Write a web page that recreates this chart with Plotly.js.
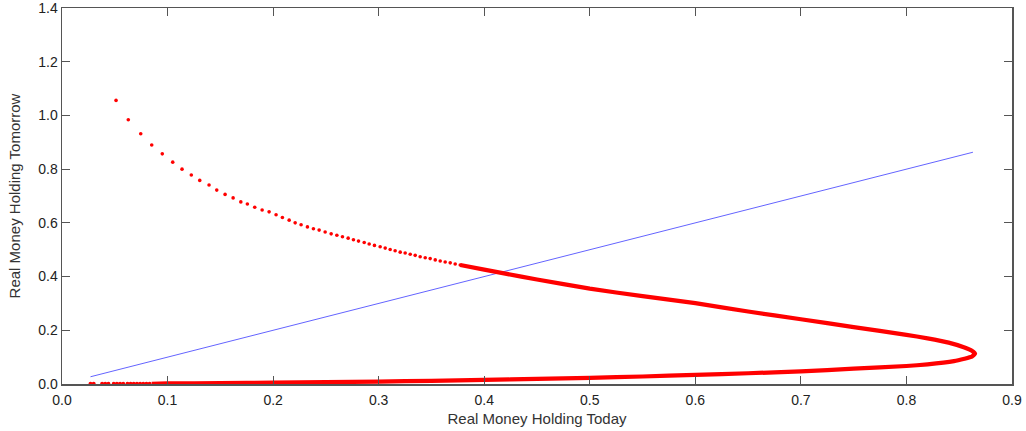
<!DOCTYPE html>
<html>
<head>
<meta charset="utf-8">
<script src="https://cdn.plot.ly/plotly-3.0.1.min.js"></script>
<style>html,body{margin:0;padding:0;background:#fff;}#chart{width:1026px;height:431px;}</style>
</head>
<body>
<div id="chart"></div>
<script>
// 45-degree reference line (blue)
const diagX = [0.027, 0.863];
const diagY = [0.027, 0.863];

// Sparse red dots, upper branch (read individually)
const dotsX = [0.0512,0.0628,0.0746,0.0850,0.0950,0.1049,0.1137,0.1225,0.1305,0.1393,0.1466,0.1545,0.1621,0.1694,0.1756,0.1826,0.1896,0.1962,
  0.2028,0.2088,0.2152,0.2209,0.2265,0.2325,0.2382,0.2436,0.2493,0.2550,0.2604,0.2657,0.2711,0.2761,0.2809,0.2863,0.2910,0.2960,0.3014,0.3062,
  0.3109,0.3156,0.3204,0.3251,0.3299,0.3346,0.3393,0.3441,0.3488,0.3536,0.3583,0.3630,0.3678,0.3725,0.3773];
const dotsY = [1.056,0.984,0.932,0.890,0.857,0.826,0.800,0.778,0.758,0.741,0.722,0.706,0.693,0.678,0.670,0.658,0.648,0.641,
  0.630,0.620,0.610,0.600,0.593,0.585,0.578,0.573,0.566,0.559,0.554,0.548,0.543,0.537,0.532,0.527,0.521,0.516,0.511,0.506,
  0.501,0.496,0.491,0.488,0.483,0.479,0.474,0.470,0.467,0.462,0.458,0.454,0.451,0.447,0.443];

// Sparse red dots, lower branch near zero
const lowDotsX = [0.027,0.030,0.038,0.041,0.044,0.049,0.052,0.055,0.058,0.062,0.065,0.068,0.071,0.074,0.077,0.080,0.083];
const lowDotsY = [0.001,0.001,0.001,0.001,0.001,0.001,0.001,0.001,0.001,0.001,0.001,0.001,0.001,0.001,0.001,0.001,0.001];

// Dense red section (continuous-looking): upper branch -> tip -> lower branch
const denseX = [0.3773,0.400,0.420,0.450,0.500,0.550,0.600,0.650,0.700,0.750,0.800,0.820,0.840,0.855,0.862,0.865,
  0.862,0.855,0.845,0.820,0.800,0.750,0.700,0.650,0.600,0.550,0.500,0.450,0.400,0.350,0.300,0.250,0.200,0.150,0.100,0.085];
const denseY = [0.443,0.426,0.411,0.389,0.355,0.327,0.301,0.270,0.241,0.212,0.183,0.170,0.154,0.136,0.124,0.113,
  0.102,0.094,0.085,0.073,0.067,0.057,0.047,0.040,0.034,0.028,0.023,0.019,0.015,0.012,0.009,0.007,0.005,0.003,0.002,0.001];

const xTicks = [0,0.1,0.2,0.3,0.4,0.5,0.6,0.7,0.8,0.9];
const yTicks = [0,0.2,0.4,0.6,0.8,1.0,1.2,1.4];

const red = 'rgb(255,0,0)';
const traces = [
  {x: diagX, y: diagY, mode: 'lines', line: {color: 'rgb(100,100,255)', width: 1}, hoverinfo: 'skip'},
  {x: denseX, y: denseY, mode: 'lines', line: {color: red, width: 4.2, shape: 'spline', smoothing: 0.4}, hoverinfo: 'skip'},
  {x: dotsX, y: dotsY, mode: 'markers', marker: {color: red, size: 3.6}, hoverinfo: 'skip'},
  {x: lowDotsX, y: lowDotsY, mode: 'markers', marker: {color: red, size: 4}, hoverinfo: 'skip'}
];

const fontFam = 'Liberation Sans, Arial, sans-serif';
const axisCommon = {
  showgrid: false, zeroline: false, showline: true, mirror: 'ticks',
  linecolor: '#555', linewidth: 1.5, ticks: 'inside', ticklen: 8, tickwidth: 1.2, tickcolor: '#555',
  tickfont: {family: fontFam, size: 14, color: '#222'}, tickformat: '.1f',
  ticklabeloverflow: 'allow'
};

const layout = {
  width: 1026, height: 431,
  margin: {l: 62, r: 14, t: 8, b: 47},
  paper_bgcolor: '#fff', plot_bgcolor: '#fff',
  showlegend: false,
  xaxis: Object.assign({}, axisCommon, {
    range: [0, 0.9], tickvals: xTicks, ticklabelstandoff: 3,
    title: {text: 'Real Money Holding Today', font: {family: fontFam, size: 15, color: '#333'}, standoff: 6}
  }),
  yaxis: Object.assign({}, axisCommon, {
    range: [0, 1.4], tickvals: yTicks,
    title: {text: 'Real Money Holding Tomorrow', font: {family: fontFam, size: 15, color: '#333'}, standoff: 14}
  })
};

Plotly.newPlot('chart', traces, layout, {displayModeBar: false, staticPlot: true});
</script>
</body>
</html>
